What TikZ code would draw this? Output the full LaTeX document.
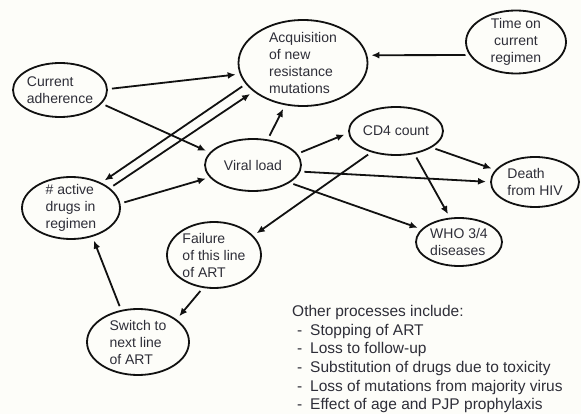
\documentclass[tikz,border=0pt]{standalone}
\usepackage{fontspec}
\setmainfont{Liberation Sans}
\usetikzlibrary{arrows.meta,shapes.geometric}
\definecolor{bg}{HTML}{FDFDF9}
\definecolor{ink}{HTML}{111111}
\definecolor{txt}{HTML}{2E2E38}
\newcommand{\dashitem}{\makebox[18pt][l]{\hspace{5pt}-}}
\tikzset{
  ell/.style={ellipse, draw=ink, line width=1.8pt, inner sep=-60pt, outer sep=0pt,
    text=txt, font=\fontsize{14}{17}\selectfont, align=left},
  arr/.style={draw=ink, line width=1.8pt, -{Latex[length=8pt,width=7pt]},
    shorten <=5pt, shorten >=5pt},
  notes/.style={anchor=north west, align=left, inner sep=0pt, text=txt,
    font=\fontsize{15.5}{18.7}\selectfont}
}
\begin{document}
\begin{tikzpicture}[x=1pt,y=-1pt]
\fill[bg] (0,0) rectangle (581,414);
\useasboundingbox (0,0) rectangle (581,414);

\node[ell, minimum width=129, minimum height=86] (acq) at (303,63) {Acquisition\\of new\\resistance\\mutations};
\node[ell, minimum width=100, minimum height=63, align=center] (time) at (516,42) {Time on\\current\\regimen};
\node[ell, minimum width=94, minimum height=54] (adh) at (60,90) {Current\\adherence};
\node[ell, minimum width=98, minimum height=62] (act) at (71,208) {\# active\\drugs in\\regimen};
\node[ell, minimum width=96, minimum height=52] (vl) at (253,165) {Viral load};
\node[ell, minimum width=94, minimum height=48] (cd4) at (396,131) {CD4 count};
\node[ell, minimum width=88, minimum height=50] (death) at (535,182) {Death\\from HIV};
\node[ell, minimum width=86, minimum height=48] (who) at (459,242) {WHO 3/4\\diseases};
\node[ell, minimum width=94, minimum height=66] (fail) at (214,255) {Failure\\of this line\\of ART};
\node[ell, minimum width=102, minimum height=66] (sw) at (138,342) {Switch to\\next line\\of ART};

\draw[arr] (adh.1) -- (acq.190);
\draw[arr] (adh.342) -- (vl.164);
\draw[arr] (acq.200) -- (act.40);
\draw[arr] (act.27) -- (acq.210);
\draw[arr] (act.5) -- (vl.196);
\draw[arr] (vl.60) -- (acq.247);
\draw[arr] (time.196) -- (acq.7);
\draw[arr] (vl.14) -- (cd4.182);
\draw[arr] (vl.352) -- (death.180);
\draw[arr] (vl.334) -- (who.161);
\draw[arr] (cd4.335) -- (death.163);
\draw[arr] (cd4.309) -- (who.110);
\draw[arr] (cd4.221) -- (fail.26);
\draw[arr] (fail.252) -- (sw.30);
\draw[arr] (sw.118) -- (act.307);

\node[notes] (other) at (292,305) {Other processes include:\\
\dashitem Stopping of ART\\
\dashitem Loss to follow-up\\
\dashitem Substitution of drugs due to toxicity\\
\dashitem Loss of mutations from majority virus\\
\dashitem Effect of age and PJP prophylaxis};
\end{tikzpicture}
\end{document}
